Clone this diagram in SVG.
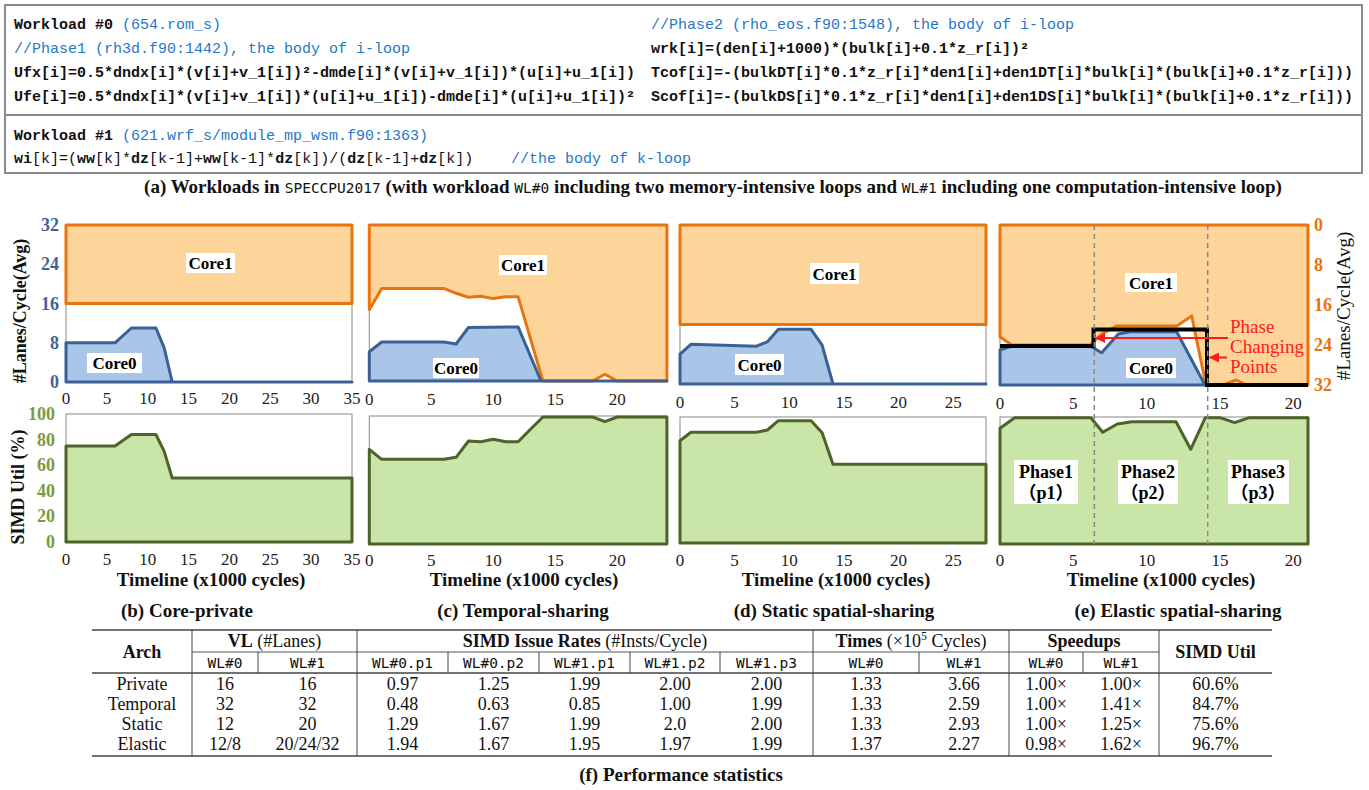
<svg xmlns="http://www.w3.org/2000/svg" width="1369" height="790" viewBox="0 0 1369 790">
<defs>
<style>
.code{font-family:"Liberation Mono",monospace;font-size:15px;fill:#111;font-weight:bold}
.n{font-weight:normal}
.cm{fill:#1f78c8;font-weight:normal}
.cap{font-family:"Liberation Serif",serif;font-weight:bold;font-size:19px;fill:#111}
.m2{font-family:"DejaVu Sans Mono",monospace;font-weight:normal;font-size:14.5px}
.tk{font-family:"Liberation Serif",serif;font-size:17px;fill:#222;text-anchor:middle}
.yb{font-family:"Liberation Serif",serif;font-size:18px;font-weight:bold;fill:#3f6496;text-anchor:end}
.yo{font-family:"Liberation Serif",serif;font-size:18px;font-weight:bold;fill:#e8740f;text-anchor:start}
.yg{font-family:"Liberation Serif",serif;font-size:18px;font-weight:bold;fill:#7a9a3c;text-anchor:end}
.ttl{font-family:"Liberation Serif",serif;font-size:18px;font-weight:bold;fill:#111;text-anchor:middle}
.tl{font-family:"Liberation Serif",serif;font-size:19px;font-weight:bold;fill:#111;text-anchor:middle}
.rt{font-family:"Liberation Serif",serif;font-size:19px;fill:#111;text-anchor:middle}
.frame{fill:none;stroke:#888;stroke-width:1}
.or{fill:#fdd59b;stroke:#e8740f;stroke-width:3;stroke-linejoin:round}
.bl{fill:#a9c5e7;stroke:#3b6094;stroke-width:3;stroke-linejoin:round}
.gr{fill:#c9e5a7;stroke:#4e6329;stroke-width:3;stroke-linejoin:round}
.lb{fill:#fff}
.lt{font-family:"Liberation Serif",serif;font-size:17px;font-weight:bold;fill:#000;text-anchor:middle}
.ph{font-family:"Liberation Serif","Noto Sans CJK SC",serif;font-size:18px;font-weight:bold;fill:#000;text-anchor:middle}
.dash{stroke:#888;stroke-width:1.5;stroke-dasharray:5 4;fill:none}
.red{font-family:"Liberation Serif",serif;font-size:19px;fill:#ff1a1a}
.ra{stroke:#ff1a1a;stroke-width:2;fill:none}
.tb{font-family:"Liberation Serif",serif;font-size:18px;fill:#111;text-anchor:middle}
.th{font-family:"Liberation Serif",serif;font-size:18px;fill:#111;text-anchor:middle}
.tbm{font-family:"DejaVu Sans Mono",monospace;font-size:14.5px;fill:#111;text-anchor:middle}
.rule{stroke:#444;fill:none}
</style>
<marker id="rah" viewBox="0 0 10 10" refX="9" refY="5" markerWidth="5" markerHeight="5" orient="auto"><path d="M0,0 L10,5 L0,10 z" fill="#ff1a1a"/></marker>
</defs>
<rect width="1369" height="790" fill="#fff"/>

<g id="code-box">
<rect x="5" y="5" width="1357" height="168" fill="none" stroke="#8c8c8c" stroke-width="2"/>
<line x1="5" y1="115" x2="1362" y2="115" stroke="#8c8c8c" stroke-width="2"/>
<text class="code" x="14" y="29">Workload #0<tspan class="cm"> (654.rom_s)</tspan></text>
<text class="code cm" x="14" y="53">//Phase1 (rh3d.f90:1442), the body of i-loop</text>
<text class="code" x="14" y="77">Ufx[i]=0.5*dndx[i]*(v[i]+v_1[i])²-dmde[i]*(v[i]+v_1[i])*(u[i]+u_1[i])</text>
<text class="code" x="14" y="101">Ufe[i]=0.5*dndx[i]*(v[i]+v_1[i])*(u[i]+u_1[i])-dmde[i]*(u[i]+u_1[i])²</text>
<text class="code cm" x="651" y="29">//Phase2 (rho_eos.f90:1548), the body of i-loop</text>
<text class="code" x="651" y="53">wrk[i]=(den[i]+1000)*(bulk[i]+0.1*z_r[i])²</text>
<text class="code" x="651" y="77">Tcof[i]=-(bulkDT[i]*0.1*z_r[i]*den1[i]+den1DT[i]*bulk[i]*(bulk[i]+0.1*z_r[i]))</text>
<text class="code" x="651" y="101">Scof[i]=-(bulkDS[i]*0.1*z_r[i]*den1[i]+den1DS[i]*bulk[i]*(bulk[i]+0.1*z_r[i]))</text>
<text class="code" x="14" y="140">Workload #1<tspan class="cm"> (621.wrf_s/module_mp_wsm.f90:1363)</tspan></text>
<text class="code" x="14" y="163">wi<tspan class="n">[k]=(</tspan>ww<tspan class="n">[k]*</tspan>dz<tspan class="n">[k-1]+</tspan>ww<tspan class="n">[k-1]*</tspan>dz<tspan class="n">[k])/(</tspan>dz<tspan class="n">[k-1]+</tspan>dz<tspan class="n">[k])</tspan></text>
<text class="code cm" x="511" y="163">//the body of k-loop</text>
</g>
<text id="caption-a" class="cap" x="713" y="193" text-anchor="middle">(a) Workloads in <tspan class="m2">SPECCPU2017</tspan> (with workload <tspan class="m2">WL#0</tspan> including two memory-intensive loops and <tspan class="m2">WL#1</tspan> including one computation-intensive loop)</text>

<!-- (b) Core-private -->
<g id="chart-b-lanes">
<rect class="frame" x="66" y="225" width="286" height="157"/>
<polygon class="or" points="66,225 352,225 352,303.5 66,303.5"/>
<polygon class="bl" points="66,382 66,342.8 115,342.8 131.4,328 155.9,328 164.1,347.7 172.2,382 352,382"/>
<rect class="lb" x="186" y="253" width="49" height="20"/><text class="lt" x="210.5" y="269">Core1</text>
<rect class="lb" x="87" y="353" width="55" height="20"/><text class="lt" x="114.5" y="369">Core0</text>
<text class="yb" x="59" y="231">32</text><text class="yb" x="59" y="270">24</text><text class="yb" x="59" y="309.5">16</text><text class="yb" x="59" y="349">8</text><text class="yb" x="59" y="388">0</text>
<text class="ttl" transform="translate(26,311) rotate(-90)">#Lanes/Cycle(Avg)</text>
<g class="tk"><text x="66" y="404">0</text><text x="106.9" y="404">5</text><text x="147.7" y="404">10</text><text x="188.6" y="404">15</text><text x="229.4" y="404">20</text><text x="270.3" y="404">25</text><text x="311.1" y="404">30</text><text x="352" y="404">35</text></g>
</g>
<g id="chart-b-util">
<rect class="frame" x="66" y="414" width="286" height="128"/>
<polygon class="gr" points="66,542 66,446 115,446 131.4,434.5 155.9,434.5 164.1,451.1 172.2,478 352,478 352,542"/>
<text class="yg" x="55" y="420">100</text><text class="yg" x="55" y="445.6">80</text><text class="yg" x="55" y="471">60</text><text class="yg" x="55" y="497">40</text><text class="yg" x="55" y="522">20</text><text class="yg" x="55" y="548">0</text>
<text class="ttl" transform="translate(24,487) rotate(-90)">SIMD Util (%)</text>
<g class="tk"><text x="66" y="565">0</text><text x="106.9" y="565">5</text><text x="147.7" y="565">10</text><text x="188.6" y="565">15</text><text x="229.4" y="565">20</text><text x="270.3" y="565">25</text><text x="311.1" y="565">30</text><text x="352" y="565">35</text></g>
<text class="tl" x="211" y="586">Timeline (x1000 cycles)</text>
<text class="tl" x="187" y="617">(b) Core-private</text>
</g>

<!-- (c) Temporal-sharing -->
<g id="chart-c-lanes">
<rect class="frame" x="369.3" y="225" width="297.6" height="156"/>
<polygon class="or" points="369.3,225 666.9,225 666.9,381 617.3,381 604.9,374.2 592.5,381 542.9,381 518.1,296.7 505.7,296.7 493.3,298.6 480.9,296.2 468.5,297.2 456.1,293.3 443.7,288.4 381.7,288.4 369.3,309.8"/>
<polygon class="bl" points="369.3,381 369.3,351.8 381.7,342 443.7,342 456.1,344 468.5,327.4 518.1,326.9 541,381 666.9,381"/>
<rect class="lb" x="499" y="255" width="48" height="20"/><text class="lt" x="523" y="271">Core1</text>
<rect class="lb" x="433" y="358" width="46" height="20"/><text class="lt" x="456" y="374">Core0</text>
<g class="tk"><text x="369.3" y="405">0</text><text x="431.3" y="405">5</text><text x="493.3" y="405">10</text><text x="555.3" y="405">15</text><text x="617.3" y="405">20</text></g>
</g>
<g id="chart-c-util">
<rect class="frame" x="369.3" y="416" width="297.6" height="128"/>
<polygon class="gr" points="369.3,544 369.3,449.3 381.7,459.3 443.7,459.3 456.1,457.3 468.5,441 480.9,441.7 493.3,439.3 505.7,441.7 518.1,441.7 530.5,429.3 542.9,417 592.5,417 604.9,421.7 617.3,417 666.9,417 666.9,544"/>
<g class="tk"><text x="369.3" y="566">0</text><text x="431.3" y="566">5</text><text x="493.3" y="566">10</text><text x="555.3" y="566">15</text><text x="617.3" y="566">20</text></g>
<text class="tl" x="524" y="586">Timeline (x1000 cycles)</text>
<text class="tl" x="523" y="617">(c) Temporal-sharing</text>
</g>

<!-- (d) Static spatial-sharing -->
<g id="chart-d-lanes">
<rect class="frame" x="680" y="225" width="306" height="159"/>
<polygon class="or" points="680,225 986,225 986,324.4 680,324.4"/>
<polygon class="bl" points="680,384 680,354.2 690.9,344.3 756.5,346.2 767.4,341.8 778.4,329.3 811.1,329.3 822.1,345.2 833,384 986,384"/>
<rect class="lb" x="810" y="263" width="49" height="21"/><text class="lt" x="834.5" y="279.5">Core1</text>
<rect class="lb" x="735" y="354" width="49" height="21"/><text class="lt" x="759.5" y="370.5">Core0</text>
<g class="tk"><text x="680" y="408">0</text><text x="734.6" y="408">5</text><text x="789.3" y="408">10</text><text x="843.9" y="408">15</text><text x="898.6" y="408">20</text><text x="953.2" y="408">25</text></g>
</g>
<g id="chart-d-util">
<rect class="frame" x="680" y="417" width="306" height="126"/>
<polygon class="gr" points="680,543 680,440.7 690.9,432.3 756.5,432.3 767.4,430 778.4,420.7 811.1,420.7 822.1,432.7 833,464.3 986,464.3 986,543"/>
<g class="tk"><text x="680" y="566">0</text><text x="734.6" y="566">5</text><text x="789.3" y="566">10</text><text x="843.9" y="566">15</text><text x="898.6" y="566">20</text><text x="953.2" y="566">25</text></g>
<text class="tl" x="836" y="586">Timeline (x1000 cycles)</text>
<text class="tl" x="834" y="617">(d) Static spatial-sharing</text>
</g>

<!-- (e) Elastic spatial-sharing -->
<g id="chart-e-lanes">
<rect class="frame" x="1000" y="225" width="308" height="160"/>
<polygon class="or" points="1000,225 1308,225 1308,385 1246.7,385 1236,380 1223.3,385 1206,385 1191.7,316 1176.7,326 1116.7,326 1101.7,334 1090,345 1011.7,345 1000,336.7"/>
<polygon class="bl" points="1000,385 1000,350 1011.7,346 1090,346 1101.7,352.7 1118.3,334 1130,331.7 1176.7,331.7 1205,385"/>
<polyline points="1000,346 1093.5,346 1093.5,329.5 1207,329.5 1207,385 1308,385" fill="none" stroke="#000" stroke-width="4"/>
<rect class="lb" x="1125" y="273" width="52" height="19"/><text class="lt" x="1151" y="288.5">Core1</text>
<rect class="lb" x="1126" y="358" width="50" height="20"/><text class="lt" x="1151" y="374">Core0</text>
<text class="yo" x="1314" y="231">0</text><text class="yo" x="1314" y="271">8</text><text class="yo" x="1314" y="311">16</text><text class="yo" x="1314" y="351">24</text><text class="yo" x="1314" y="391">32</text>
<text class="rt" transform="translate(1350,306) rotate(-90)">#Lanes/Cycle(Avg)</text>
<text class="red" x="1230" y="333">Phase</text>
<text class="red" x="1230" y="353">Changing</text>
<text class="red" x="1230" y="373">Points</text>
<g class="tk"><text x="1000" y="409">0</text><text x="1073.3" y="409">5</text><text x="1146.7" y="409">10</text><text x="1220" y="409">15</text><text x="1293.3" y="409">20</text></g>
</g>
<g id="chart-e-util">
<rect class="frame" x="1000" y="417" width="308" height="127"/>
<polygon class="gr" points="1000,544 1000,428.3 1014.7,417.7 1090.9,417.7 1102.7,432.3 1117.3,424 1132,421.7 1176,421.7 1190.7,449.3 1205.3,417.7 1220,417.7 1234.7,422.7 1249.3,417.7 1308,417.7 1308,544"/>
<rect class="lb" x="1014" y="460" width="64" height="44"/><text class="ph" x="1046" y="478">Phase1</text><text class="ph" x="1046" y="499">（p1）</text>
<rect class="lb" x="1118" y="460" width="60" height="44"/><text class="ph" x="1148" y="478">Phase2</text><text class="ph" x="1148" y="499">（p2）</text>
<rect class="lb" x="1228" y="460" width="61" height="44"/><text class="ph" x="1258" y="478">Phase3</text><text class="ph" x="1258" y="499">（p3）</text>
<g class="tk"><text x="1000" y="566">0</text><text x="1073.3" y="566">5</text><text x="1146.7" y="566">10</text><text x="1220" y="566">15</text><text x="1293.3" y="566">20</text></g>
<text class="tl" x="1161" y="586">Timeline (x1000 cycles)</text>
<text class="tl" x="1178" y="617">(e) Elastic spatial-sharing</text>
</g>

<g id="connectors">
<line class="dash" x1="1094.3" y1="225" x2="1094.3" y2="544"/>
<line class="dash" x1="1207.7" y1="225" x2="1207.7" y2="544"/>
<line class="ra" x1="1228" y1="338" x2="1096" y2="338" marker-end="url(#rah)"/>
<line class="ra" x1="1227" y1="357.5" x2="1210" y2="357.5" marker-end="url(#rah)"/>
</g>

<g id="table-f">
<line class="rule" x1="92" y1="630" x2="1272" y2="630" stroke-width="1.6"/>
<line class="rule" x1="192" y1="652" x2="1159" y2="652" stroke-width="0.9"/>
<line class="rule" x1="92" y1="673" x2="1272" y2="673" stroke-width="1.3"/>
<line class="rule" x1="92" y1="756" x2="1272" y2="756" stroke-width="1.6"/>
<g class="rule" stroke-width="1">
<line x1="192" y1="630" x2="192" y2="756"/><line x1="357" y1="630" x2="357" y2="756"/><line x1="813" y1="630" x2="813" y2="756"/><line x1="1009" y1="630" x2="1009" y2="756"/><line x1="1159" y1="630" x2="1159" y2="756"/>
<line x1="258" y1="652" x2="258" y2="673"/><line x1="448" y1="652" x2="448" y2="673"/><line x1="539" y1="652" x2="539" y2="673"/><line x1="630" y1="652" x2="630" y2="673"/><line x1="720" y1="652" x2="720" y2="673"/><line x1="919" y1="652" x2="919" y2="673"/><line x1="1083" y1="652" x2="1083" y2="673"/>
</g>
<text class="th" x="142" y="658" font-weight="bold">Arch</text>
<text class="th" x="274.5" y="647"><tspan font-weight="bold">VL</tspan> (#Lanes)</text>
<text class="th" x="585" y="647"><tspan font-weight="bold">SIMD Issue Rates</tspan> (#Insts/Cycle)</text>
<text class="th" x="911" y="647"><tspan font-weight="bold">Times</tspan> (×10<tspan font-size="12" dy="-7">5</tspan><tspan dy="7"> Cycles)</tspan></text>
<text class="th" x="1084" y="647" font-weight="bold">Speedups</text>
<text class="th" x="1215.5" y="658" font-weight="bold">SIMD Util</text>
<g class="tbm">
<text x="225" y="668">WL#0</text><text x="307.5" y="668">WL#1</text>
<text x="402.5" y="668">WL#0.p1</text><text x="493.5" y="668">WL#0.p2</text><text x="584.5" y="668">WL#1.p1</text><text x="675" y="668">WL#1.p2</text><text x="766.5" y="668">WL#1.p3</text>
<text x="866" y="668">WL#0</text><text x="964" y="668">WL#1</text><text x="1046" y="668">WL#0</text><text x="1121" y="668">WL#1</text>
</g>
<g class="tb">
<text x="142" y="690">Private</text><text x="225" y="690">16</text><text x="307.5" y="690">16</text><text x="402.5" y="690">0.97</text><text x="493.5" y="690">1.25</text><text x="584.5" y="690">1.99</text><text x="675" y="690">2.00</text><text x="766.5" y="690">2.00</text><text x="866" y="690">1.33</text><text x="964" y="690">3.66</text><text x="1046" y="690">1.00×</text><text x="1121" y="690">1.00×</text><text x="1215.5" y="690">60.6%</text>
<text x="142" y="710">Temporal</text><text x="225" y="710">32</text><text x="307.5" y="710">32</text><text x="402.5" y="710">0.48</text><text x="493.5" y="710">0.63</text><text x="584.5" y="710">0.85</text><text x="675" y="710">1.00</text><text x="766.5" y="710">1.99</text><text x="866" y="710">1.33</text><text x="964" y="710">2.59</text><text x="1046" y="710">1.00×</text><text x="1121" y="710">1.41×</text><text x="1215.5" y="710">84.7%</text>
<text x="142" y="730">Static</text><text x="225" y="730">12</text><text x="307.5" y="730">20</text><text x="402.5" y="730">1.29</text><text x="493.5" y="730">1.67</text><text x="584.5" y="730">1.99</text><text x="675" y="730">2.0</text><text x="766.5" y="730">2.00</text><text x="866" y="730">1.33</text><text x="964" y="730">2.93</text><text x="1046" y="730">1.00×</text><text x="1121" y="730">1.25×</text><text x="1215.5" y="730">75.6%</text>
<text x="142" y="750">Elastic</text><text x="225" y="750">12/8</text><text x="307.5" y="750">20/24/32</text><text x="402.5" y="750">1.94</text><text x="493.5" y="750">1.67</text><text x="584.5" y="750">1.95</text><text x="675" y="750">1.97</text><text x="766.5" y="750">1.99</text><text x="866" y="750">1.37</text><text x="964" y="750">2.27</text><text x="1046" y="750">0.98×</text><text x="1121" y="750">1.62×</text><text x="1215.5" y="750">96.7%</text>
</g>
<text class="tl" x="681" y="781" font-size="18">(f) Performance statistics</text>
</g>
</svg>
